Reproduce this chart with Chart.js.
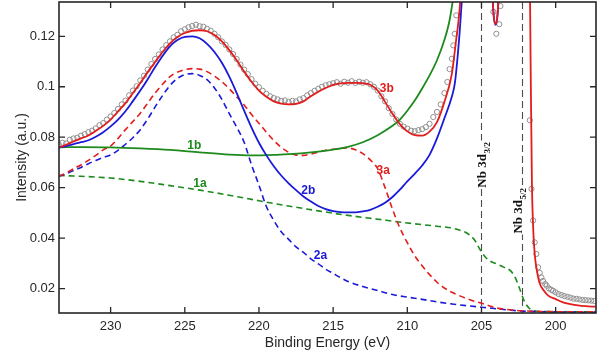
<!DOCTYPE html>
<html><head><meta charset="utf-8">
<script src="https://cdn.jsdelivr.net/npm/chart.js@4/dist/chart.umd.min.js"></script>
<style>html,body{margin:0;padding:0;background:#fff;}#wrap{width:599px;height:356px;}</style>
</head><body><div id="wrap"><canvas id="c" width="599" height="356"></canvas></div>
<script>
// ---- axes ----
const xMin = 197.28, xMax = 233.48;
const yMin = 0.0103, yMax = 0.1336;
const xTicks = [230,225,220,215,210,205,200];
const xTickLabels = ['230','225','220','215','210','205','200'];
const yTicks = [0.02,0.04,0.06,0.08,0.1,0.12];
const yTickLabels = ['0.02','0.04','0.06','0.08','0.1','0.12'];
const xTitle = 'Binding Energy (eV)';
const yTitle = 'Intensity (a.u.)';

// ---- measured data (circles) ----
const dataX = [233.5,233.25,233,232.75,232.5,232.25,232,231.75,231.5,231.25,231,230.75,230.5,230.25,230,229.75,229.5,229.25,229,228.75,228.5,228.25,228,227.75,227.5,227.25,227,226.75,226.5,226.25,226,225.75,225.5,225.25,225,224.75,224.5,224.25,224,223.75,223.5,223.25,223,222.75,222.5,222.25,222,221.75,221.5,221.25,221,220.75,220.5,220.25,220,219.75,219.5,219.25,219,218.75,218.5,218.25,218,217.75,217.5,217.25,217,216.75,216.5,216.25,216,215.75,215.5,215.25,215,214.75,214.5,214.25,214,213.75,213.5,213.25,213,212.75,212.5,212.25,212,211.75,211.5,211.25,211,210.75,210.5,210.25,210,209.75,209.5,209.25,209,208.75,208.5,208.25,208,207.75,207.5,207.3,207.15,207,206.9,206.8,206.7,
  204.2,204,203.8,203.72,
  201.74,201.63,201.52,201.41,201.3,201.18,201.07,200.96,200.85,200.7,200.6,200.45,200.3,200.17,200,199.8,199.6,199.4,199.2,199,198.8,198.6,198.4,198.2,198,197.8,197.6,197.4];
const dataY = [0.0772,0.0778,0.0775,0.0790,0.0795,0.0798,0.0806,0.0812,0.0820,0.0826,0.0835,0.0848,0.0856,0.0870,0.0882,0.0896,0.0912,0.0930,0.0945,0.0966,0.0985,0.1002,0.1025,0.1044,0.1068,0.1090,0.1110,0.1128,0.1148,0.1165,0.1180,0.1196,0.1206,0.1220,0.1228,0.1236,0.1241,0.1246,0.1240,0.1238,0.1230,0.1222,0.1210,0.1196,0.1180,0.1166,0.1148,0.1130,0.1110,0.1088,0.1068,0.1050,0.1030,0.1012,0.0998,0.0984,0.0972,0.0962,0.0955,0.0950,0.0944,0.0946,0.0940,0.0944,0.0942,0.0950,0.0955,0.0966,0.0975,0.0984,0.0992,0.1000,0.1006,0.1010,0.1014,0.1018,0.1012,0.1020,0.1016,0.1022,0.1015,0.1020,0.1016,0.1018,0.1010,0.1000,0.0985,0.0962,0.0942,0.0915,0.0892,0.0870,0.0853,0.0842,0.0834,0.0826,0.0824,0.0828,0.0832,0.0840,0.0853,0.0880,0.0900,0.0930,0.0975,0.1019,0.1070,0.1111,0.1164,0.1210,0.1283,
  0.1297,0.1210,0.1248,0.1320,
  0.0867,0.0595,0.0470,0.0383,0.0337,0.0284,0.0262,0.0244,0.0230,0.0218,0.0211,0.0200,0.0195,0.0191,0.0185,0.0178,0.0174,0.0170,0.0167,0.0164,0.0160,0.0159,0.0157,0.0155,0.0154,0.0153,0.0152,0.0151];

// ---- fit 3b (total, red solid) ----
const fit3bX = [233.5,233,232.5,232,231.5,231,230.5,230,229.5,229,228.5,228,227.5,227,226.5,226,225.5,225,224.5,224,223.5,223,222.5,222,221.5,221,220.5,220,219.5,219,218.5,218,217.5,217,216.5,216,215.5,215,214.5,214,213.5,213,212.5,212,211.5,211,210.5,210,209.5,209,208.5,208,207.5,207,206.75,206.5,206.3,206,205.5,205,204.6,204.4,204.2,204.05,203.9,203.7,203.4,203,202.3,201.9,201.75,201.68,201.6,201.5,201.4,201.3,201.1,200.8,200.5,200,199.5,199,198.5,198,197.3];
const fit3bY = [0.0758,0.0770,0.0783,0.0795,0.0807,0.0825,0.0845,0.0870,0.0902,0.0935,0.0975,0.1015,0.1058,0.1098,0.1138,0.1172,0.1197,0.1213,0.1222,0.1224,0.1220,0.1205,0.1180,0.1145,0.1105,0.1060,0.1020,0.0985,0.0960,0.0942,0.0933,0.0930,0.0932,0.0942,0.0962,0.0980,0.0995,0.1007,0.1013,0.1015,0.1015,0.1014,0.1008,0.0985,0.0940,0.0893,0.0852,0.0823,0.0808,0.0806,0.0822,0.0860,0.0940,0.1050,0.1165,0.1290,0.1450,0.1800,0.2500,0.3000,0.2000,0.1600,0.1300,0.1248,0.1300,0.1600,0.2500,0.3500,0.4500,0.2200,0.1500,0.1050,0.0620,0.0420,0.0330,0.0284,0.0225,0.0192,0.0172,0.0158,0.0145,0.0138,0.0133,0.0130,0.0128];

// ---- fit 2b (blue solid) ----
const fit2bX = [233.5,233,232.5,232,231.5,231,230.5,230,229.5,229,228.5,228,227.5,227,226.5,226,225.5,225,224.5,224,223.5,223,222.5,222,221.5,221,220.5,220,219.5,219,218.5,218,217.5,217,216.5,216,215.5,215,214.5,214,213.5,213,212.5,212,211.5,211,210.5,210,209.5,209,208.5,208,207.5,207,206.8,206.6,206.4,206.2,206,205.5,205,204.6,204.4,204.2,204.05,203.9,203.7,203.4];
const fit2bY = [0.0758,0.0765,0.0773,0.0780,0.0788,0.0802,0.0820,0.0843,0.0870,0.0903,0.0943,0.0985,0.1030,0.1078,0.1122,0.1160,0.1185,0.1198,0.1200,0.1192,0.1170,0.1138,0.1095,0.1040,0.0975,0.0905,0.0838,0.0778,0.0728,0.0685,0.0648,0.0617,0.0590,0.0565,0.0545,0.0527,0.0515,0.0507,0.0503,0.0502,0.0502,0.0506,0.0512,0.0524,0.0540,0.0563,0.0592,0.0625,0.0655,0.0688,0.0730,0.0795,0.0875,0.0960,0.1012,0.1125,0.1277,0.1500,0.2000,0.3000,0.3500,0.2000,0.1600,0.1300,0.1245,0.1300,0.1600,0.2500];

// ---- fit 1b (green solid) ----
const fit1bX = [233.5,232,230,228,226,224,222,220.5,219,218,217,216,215,214,213,212,211,210.5,210,209.5,209,208.5,208,207.5,207.2,207,206.8,206.5];
const fit1bY = [0.0760,0.0761,0.0760,0.0756,0.0750,0.0740,0.0731,0.0728,0.0730,0.0733,0.0737,0.0743,0.0751,0.0762,0.0780,0.0808,0.0845,0.0870,0.0905,0.0945,0.0993,0.1045,0.1105,0.1185,0.1250,0.1316,0.1400,0.1600];

// ---- fit 3a (red dashed) ----
const fit3aX = [233.5,233,232.5,232,231.5,231,230.5,230,229.5,229,228.5,228,227.5,227,226.5,226,225.5,225,224.5,224,223.5,223,222.5,222,221.5,221,220.5,220,219.5,219,218.5,218,217.5,217,216.5,216,215.5,215,214.5,214,213.5,213,212.5,212,211.5,211,210.5,210,209.5,209,208.5,208,207.5,207,206.5,206,205.5,205,204.5,204,203,202,201,199,197.3];
const fit3aY = [0.0645,0.0658,0.0675,0.0690,0.0708,0.0728,0.0750,0.0765,0.0795,0.0830,0.0862,0.0895,0.0935,0.0975,0.1010,0.1040,0.1058,0.1068,0.1072,0.1070,0.1060,0.1042,0.1020,0.0992,0.0960,0.0928,0.0890,0.0855,0.0820,0.0787,0.0760,0.0740,0.0729,0.0728,0.0733,0.0740,0.0748,0.0752,0.0756,0.0757,0.0750,0.0735,0.0710,0.0675,0.0600,0.0515,0.0440,0.0382,0.0330,0.0290,0.0255,0.0225,0.0202,0.0185,0.0172,0.0160,0.0150,0.0142,0.0132,0.0123,0.0115,0.0111,0.0109,0.0108,0.0108];

// ---- fit 2a (blue dashed) ----
const fit2aX = [233.5,233,232.5,232,231.5,231,230.5,230,229.5,229,228.5,228,227.5,227,226.5,226,225.5,225,224.5,224,223.5,223,222.5,222,221.5,221,220.5,220,219.5,219,218.5,218,217.5,217,216.5,216,215.5,215,214.5,214,213,212,211,210,209,208,207,206,205,204,203,202,200,197.3];
const fit2aY = [0.0645,0.0655,0.0668,0.0680,0.0695,0.0708,0.0720,0.0730,0.0748,0.0772,0.0798,0.0830,0.0872,0.0920,0.0965,0.1005,0.1033,0.1048,0.1052,0.1045,0.1028,0.0995,0.0950,0.0893,0.0840,0.0780,0.0690,0.0610,0.0525,0.0470,0.0425,0.0395,0.0365,0.0343,0.0318,0.0298,0.0277,0.0260,0.0243,0.0228,0.0208,0.0192,0.0176,0.0166,0.0157,0.0147,0.0139,0.0132,0.0126,0.0120,0.0114,0.0110,0.0107,0.0106];

// ---- fit 1a (green dashed) ----
const fit1aX = [233.5,232,230,228,226,224,222,220,218,216,214,212,210,208,207,206.5,206,205.5,205.2,205,204.7,204.4,204,203.5,203,202.7,202.4,202.1,201.8,201.5,201,199,197.3];
const fit1aY = [0.0648,0.0645,0.0638,0.0625,0.0608,0.0590,0.0570,0.0548,0.0527,0.0508,0.0490,0.0475,0.0460,0.0447,0.0440,0.0432,0.0420,0.0395,0.0365,0.0345,0.0322,0.0308,0.0298,0.0285,0.0268,0.0240,0.0195,0.0148,0.0123,0.0113,0.0109,0.0108,0.0108];

// ---- reference lines & labels ----
const refLineX = [205, 202.3];
const refLineMain = ['Nb 3d', 'Nb 3d'];
const refLineSub = ['3/2', '5/2'];
const refLineLabelY = [0.0600, 0.0418];
const curveLabels = ['3b','3a','2b','2a','1b','1a'];
const curveLabelX = [211.38, 211.63, 216.68, 215.85, 224.36, 223.98];
const curveLabelY = [0.0992, 0.0668, 0.0589, 0.0331, 0.0767, 0.0615];

const RED = '#e31d1d', BLUE = '#1a1ad8', GREEN = '#1d8a1d';
const curveLabelColor = [RED, RED, BLUE, BLUE, GREEN, GREEN];
const AX = '#262626';

const pts = (xs, ys) => xs.map((x, i) => ({x: x, y: ys[i]}));

function lineDs(xs, ys, color, dashed, order) {
  return {
    type: 'line', data: pts(xs, ys), borderColor: color, backgroundColor: color,
    borderWidth: dashed ? 1.6 : 1.8, borderDash: dashed ? [6, 4] : [],
    pointRadius: 0, fill: false, cubicInterpolationMode: 'monotone', order: order
  };
}

const decor = {
  id: 'decor',
  beforeDatasetsDraw(chart) {
    const {ctx, chartArea: a, scales: {x, y}} = chart;
    ctx.save();
    ctx.strokeStyle = '#4d4d4d'; ctx.lineWidth = 1.1; ctx.setLineDash([7, 4]);
    refLineX.forEach(v => {
      const px = Math.round(x.getPixelForValue(v)) + 0.5;
      ctx.beginPath(); ctx.moveTo(px, a.top); ctx.lineTo(px, a.bottom); ctx.stroke();
    });
    ctx.restore();
  },
  afterDatasetsDraw(chart) {
    const {ctx, chartArea: a, scales: {x, y}} = chart;
    ctx.save();
    const offs = [5, 0.5];
    refLineX.forEach((v, i) => {
      const px = x.getPixelForValue(v) + offs[i];
      const py = y.getPixelForValue(refLineLabelY[i]);
      ctx.save();
      ctx.translate(px, py);
      ctx.rotate(-Math.PI / 2);
      ctx.font = 'bold 13px "Liberation Serif"';
      const w1 = ctx.measureText(refLineMain[i]).width;
      ctx.font = 'bold 9px "Liberation Serif"';
      const w2 = ctx.measureText(refLineSub[i]).width;
      ctx.fillStyle = '#fff';
      ctx.fillRect(-1, -11, w1 + w2 + 3, 17);
      ctx.fillStyle = '#111';
      ctx.textBaseline = 'alphabetic'; ctx.textAlign = 'left';
      ctx.font = 'bold 13px "Liberation Serif"';
      ctx.fillText(refLineMain[i], 0, 0);
      ctx.font = 'bold 9px "Liberation Serif"';
      ctx.fillText(refLineSub[i], w1 + 0.5, 3.5);
      ctx.restore();
    });
    ctx.font = 'bold 12px "Liberation Sans", Arial, sans-serif';
    ctx.textAlign = 'center'; ctx.textBaseline = 'middle';
    curveLabels.forEach((t, i) => {
      ctx.fillStyle = curveLabelColor[i];
      ctx.fillText(t, x.getPixelForValue(curveLabelX[i]), y.getPixelForValue(curveLabelY[i]));
    });
    ctx.strokeStyle = AX; ctx.lineWidth = 1.6; ctx.setLineDash([]);
    ctx.strokeRect(a.left, a.top, a.right - a.left, a.bottom - a.top);
    ctx.lineWidth = 1.3;
    const tl = 6;
    ctx.beginPath();
    xTicks.forEach(v => {
      const px = x.getPixelForValue(v);
      ctx.moveTo(px, a.bottom); ctx.lineTo(px, a.bottom - tl);
      ctx.moveTo(px, a.top); ctx.lineTo(px, a.top + tl);
    });
    yTicks.forEach(v => {
      const py = y.getPixelForValue(v);
      ctx.moveTo(a.left, py); ctx.lineTo(a.left + tl, py);
      ctx.moveTo(a.right, py); ctx.lineTo(a.right - tl, py);
    });
    ctx.stroke();
    ctx.restore();
  }
};

const FONT = '"Liberation Sans", Arial, sans-serif';
new Chart(document.getElementById('c'), {
  type: 'line',
  data: {
    datasets: [
      {type: 'scatter', data: pts(dataX, dataY), showLine: false, pointStyle: 'circle',
       pointRadius: 2.6, pointBorderWidth: 1, pointBorderColor: '#8f8f8f', pointBackgroundColor: 'rgba(255,255,255,0)',
       borderColor: '#8f8f8f', backgroundColor: 'rgba(255,255,255,0)', order: 10},
      lineDs(fit1aX, fit1aY, GREEN, true, 9),
      lineDs(fit2aX, fit2aY, BLUE, true, 8),
      lineDs(fit3aX, fit3aY, RED, true, 7),
      lineDs(fit1bX, fit1bY, GREEN, false, 6),
      lineDs(fit2bX, fit2bY, BLUE, false, 5),
      lineDs(fit3bX, fit3bY, RED, false, 4)
    ]
  },
  plugins: [decor],
  options: {
    responsive: false, animation: false, devicePixelRatio: 1,
    layout: {autoPadding: false, padding: {left: 0, right: 3, top: 2, bottom: 0}},
    plugins: {legend: {display: false}, tooltip: {enabled: false}},
    scales: {
      x: {
        type: 'linear', reverse: true, min: xMin, max: xMax,
        grid: {display: false, drawTicks: false, tickLength: 0}, border: {display: false},
        afterBuildTicks: s => { s.ticks = xTicks.map(v => ({value: v})); },
        afterFit: s => { s.height = 43; s.paddingLeft = 0; s.paddingRight = 0; },
        ticks: {padding: 6, color: AX, font: {family: FONT, size: 13},
          callback: (v) => xTickLabels[xTicks.indexOf(v)] ?? ''},
        title: {display: true, text: xTitle, color: AX, padding: {top: 0, bottom: 4},
          font: {family: FONT, size: 14}}
      },
      y: {
        type: 'linear', min: yMin, max: yMax,
        grid: {display: false, drawTicks: false, tickLength: 0}, border: {display: false},
        afterBuildTicks: s => { s.ticks = yTicks.map(v => ({value: v})); },
        afterFit: s => { s.width = 59; s.paddingTop = 0; s.paddingBottom = 0; },
        ticks: {padding: 4, color: AX, font: {family: FONT, size: 13},
          callback: (v) => { const i = yTicks.findIndex(t => Math.abs(t - v) < 1e-9); return i >= 0 ? yTickLabels[i] : ''; }},
        title: {display: true, text: yTitle, color: AX, padding: {top: 13.5, bottom: 0},
          font: {family: FONT, size: 14}}
      }
    }
  }
});
</script></body></html>
